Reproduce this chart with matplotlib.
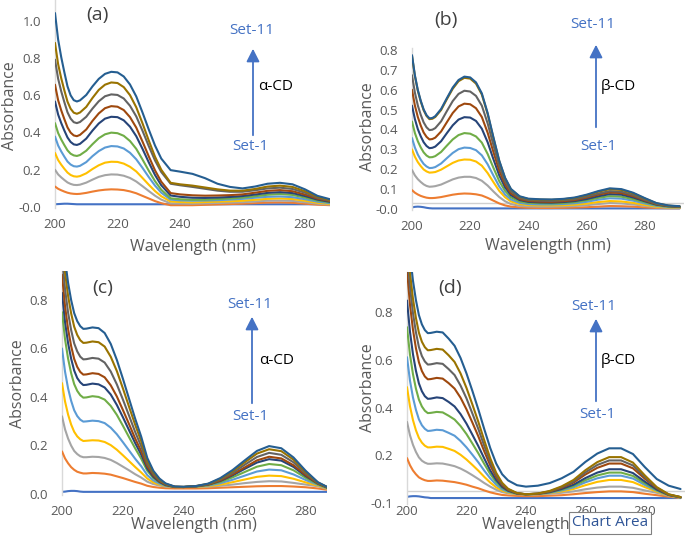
import matplotlib
matplotlib.use("Agg")
import matplotlib.pyplot as plt
from matplotlib.patches import FancyArrowPatch

plt.rcParams['font.family'] = ['Open Sans', 'DejaVu Sans']

W, H = 685, 542

# wavelength grid (nm)
wl = [200, 201, 202, 203, 204, 205, 206, 207, 208, 210, 212, 214, 216, 218, 220, 222, 224, 226, 228, 230,
      232, 234, 237, 240, 244, 248, 252, 256, 260, 264, 268, 272, 276, 280, 284, 288, 292]

set_names = ['Set-1', 'Set-2', 'Set-3', 'Set-4', 'Set-5', 'Set-6', 'Set-7', 'Set-8', 'Set-9', 'Set-10', 'Set-11']
set_colors = ['#4472C4', '#ED7D31', '#A5A5A5', '#FFC000', '#5B9BD5', '#70AD47',
              '#264478', '#9E480E', '#636363', '#997300', '#255E91']

# (a) alpha-CD
abs_a = [
    [0.015, 0.016, 0.017, 0.018, 0.018, 0.017, 0.016, 0.015, 0.015, 0.015, 0.015, 0.015, 0.015, 0.015, 0.015, 0.015, 0.015, 0.015, 0.015, 0.015, 0.015, 0.015, 0.015, 0.015, 0.015, 0.015, 0.015, 0.015, 0.015, 0.015, 0.015, 0.015, 0.015, 0.015, 0.015, 0.015, 0.015],
    [0.11, 0.098, 0.09, 0.083, 0.077, 0.073, 0.071, 0.07, 0.071, 0.076, 0.083, 0.089, 0.093, 0.095, 0.094, 0.091, 0.084, 0.074, 0.06, 0.046, 0.032, 0.021, 0.01, 0.01, 0.01, 0.012, 0.014, 0.016, 0.018, 0.021, 0.024, 0.025, 0.023, 0.018, 0.013, 0.01, 0.01],
    [0.20, 0.175, 0.159, 0.145, 0.132, 0.124, 0.119, 0.118, 0.12, 0.131, 0.147, 0.162, 0.171, 0.175, 0.174, 0.168, 0.156, 0.137, 0.112, 0.086, 0.061, 0.04, 0.02, 0.019, 0.018, 0.02, 0.022, 0.024, 0.026, 0.03, 0.034, 0.035, 0.033, 0.026, 0.018, 0.013, 0.012],
    [0.29, 0.252, 0.227, 0.205, 0.185, 0.172, 0.165, 0.163, 0.166, 0.181, 0.204, 0.224, 0.238, 0.243, 0.242, 0.233, 0.216, 0.191, 0.156, 0.12, 0.086, 0.058, 0.03, 0.027, 0.025, 0.027, 0.029, 0.031, 0.034, 0.039, 0.044, 0.046, 0.043, 0.034, 0.023, 0.017, 0.015],
    [0.378, 0.33, 0.298, 0.27, 0.244, 0.228, 0.219, 0.217, 0.221, 0.241, 0.273, 0.30, 0.319, 0.327, 0.325, 0.314, 0.291, 0.256, 0.21, 0.161, 0.115, 0.077, 0.04, 0.036, 0.034, 0.035, 0.037, 0.04, 0.044, 0.05, 0.055, 0.057, 0.053, 0.042, 0.029, 0.021, 0.018],
    [0.45, 0.397, 0.362, 0.332, 0.304, 0.286, 0.277, 0.274, 0.279, 0.302, 0.337, 0.369, 0.39, 0.399, 0.396, 0.382, 0.354, 0.312, 0.255, 0.195, 0.139, 0.093, 0.047, 0.042, 0.039, 0.04, 0.043, 0.046, 0.051, 0.058, 0.066, 0.07, 0.065, 0.051, 0.035, 0.025, 0.021],
    [0.566, 0.496, 0.45, 0.41, 0.373, 0.349, 0.336, 0.333, 0.339, 0.367, 0.41, 0.448, 0.474, 0.484, 0.482, 0.465, 0.431, 0.38, 0.312, 0.24, 0.172, 0.117, 0.062, 0.055, 0.05, 0.049, 0.051, 0.054, 0.059, 0.067, 0.076, 0.08, 0.075, 0.059, 0.04, 0.028, 0.025],
    [0.656, 0.573, 0.518, 0.471, 0.427, 0.399, 0.384, 0.38, 0.387, 0.416, 0.462, 0.502, 0.53, 0.541, 0.538, 0.52, 0.482, 0.426, 0.351, 0.272, 0.197, 0.136, 0.075, 0.068, 0.063, 0.061, 0.062, 0.064, 0.068, 0.077, 0.087, 0.091, 0.085, 0.067, 0.045, 0.032, 0.029],
    [0.79, 0.688, 0.62, 0.562, 0.508, 0.474, 0.455, 0.45, 0.456, 0.484, 0.528, 0.567, 0.594, 0.604, 0.601, 0.582, 0.543, 0.486, 0.409, 0.327, 0.25, 0.188, 0.125, 0.117, 0.108, 0.098, 0.088, 0.082, 0.082, 0.09, 0.10, 0.104, 0.097, 0.077, 0.05, 0.035, 0.031],
    [0.88, 0.766, 0.69, 0.625, 0.565, 0.527, 0.506, 0.50, 0.507, 0.537, 0.585, 0.628, 0.656, 0.668, 0.665, 0.643, 0.60, 0.535, 0.449, 0.357, 0.27, 0.20, 0.13, 0.122, 0.115, 0.105, 0.095, 0.088, 0.088, 0.097, 0.11, 0.115, 0.108, 0.085, 0.055, 0.038, 0.034],
    [1.04, 0.898, 0.803, 0.722, 0.647, 0.599, 0.573, 0.566, 0.572, 0.601, 0.647, 0.687, 0.714, 0.725, 0.722, 0.70, 0.657, 0.593, 0.507, 0.416, 0.33, 0.26, 0.198, 0.19, 0.178, 0.155, 0.125, 0.108, 0.10, 0.11, 0.125, 0.13, 0.122, 0.095, 0.06, 0.042, 0.038],
]

# (b) beta-CD
abs_b = [
    [0.008, 0.011, 0.012, 0.011, 0.009, 0.006, 0.004, 0.003, 0.003, 0.003, 0.003, 0.003, 0.003, 0.003, 0.003, 0.003, 0.003, 0.003, 0.003, 0.003, 0.003, 0.003, 0.003, 0.003, 0.003, 0.003, 0.003, 0.003, 0.003, 0.003, 0.003, 0.003, 0.003, 0.003, 0.003, 0.003, 0.003],
    [0.095, 0.082, 0.073, 0.066, 0.061, 0.057, 0.055, 0.055, 0.056, 0.06, 0.066, 0.072, 0.076, 0.078, 0.077, 0.074, 0.068, 0.056, 0.042, 0.028, 0.018, 0.012, 0.008, 0.006, 0.005, 0.005, 0.006, 0.007, 0.009, 0.012, 0.015, 0.014, 0.012, 0.008, 0.005, 0.004, 0.004],
    [0.196, 0.169, 0.15, 0.136, 0.124, 0.116, 0.112, 0.113, 0.115, 0.123, 0.136, 0.149, 0.158, 0.162, 0.162, 0.156, 0.142, 0.118, 0.088, 0.06, 0.039, 0.025, 0.016, 0.013, 0.012, 0.012, 0.013, 0.015, 0.019, 0.025, 0.03, 0.028, 0.023, 0.016, 0.009, 0.006, 0.005],
    [0.30, 0.263, 0.236, 0.216, 0.199, 0.189, 0.183, 0.184, 0.186, 0.198, 0.215, 0.232, 0.244, 0.249, 0.248, 0.239, 0.218, 0.181, 0.135, 0.091, 0.059, 0.038, 0.025, 0.02, 0.018, 0.018, 0.019, 0.022, 0.027, 0.035, 0.04, 0.038, 0.031, 0.021, 0.012, 0.008, 0.006],
    [0.357, 0.309, 0.274, 0.248, 0.227, 0.214, 0.206, 0.207, 0.211, 0.229, 0.256, 0.282, 0.301, 0.309, 0.307, 0.296, 0.27, 0.225, 0.168, 0.113, 0.073, 0.048, 0.031, 0.025, 0.023, 0.023, 0.025, 0.029, 0.036, 0.047, 0.054, 0.052, 0.042, 0.028, 0.016, 0.01, 0.008],
    [0.44, 0.382, 0.341, 0.31, 0.285, 0.269, 0.26, 0.261, 0.266, 0.287, 0.319, 0.35, 0.372, 0.382, 0.379, 0.365, 0.334, 0.277, 0.207, 0.14, 0.091, 0.059, 0.038, 0.031, 0.029, 0.028, 0.03, 0.035, 0.044, 0.056, 0.065, 0.062, 0.05, 0.034, 0.019, 0.012, 0.01],
    [0.52, 0.452, 0.402, 0.366, 0.336, 0.317, 0.306, 0.308, 0.314, 0.341, 0.382, 0.421, 0.45, 0.462, 0.46, 0.443, 0.404, 0.336, 0.25, 0.169, 0.109, 0.07, 0.045, 0.036, 0.033, 0.032, 0.035, 0.04, 0.05, 0.064, 0.075, 0.072, 0.058, 0.039, 0.022, 0.014, 0.011],
    [0.60, 0.52, 0.463, 0.42, 0.385, 0.363, 0.35, 0.352, 0.359, 0.39, 0.437, 0.483, 0.516, 0.53, 0.527, 0.507, 0.463, 0.384, 0.286, 0.193, 0.124, 0.079, 0.05, 0.04, 0.037, 0.036, 0.039, 0.045, 0.057, 0.072, 0.083, 0.08, 0.065, 0.043, 0.024, 0.015, 0.012],
    [0.673, 0.585, 0.521, 0.474, 0.436, 0.411, 0.397, 0.399, 0.407, 0.441, 0.493, 0.543, 0.579, 0.595, 0.591, 0.569, 0.52, 0.431, 0.321, 0.216, 0.139, 0.089, 0.056, 0.045, 0.042, 0.041, 0.044, 0.05, 0.062, 0.078, 0.09, 0.087, 0.071, 0.047, 0.026, 0.016, 0.012],
    [0.77, 0.668, 0.595, 0.541, 0.497, 0.468, 0.452, 0.454, 0.463, 0.498, 0.553, 0.605, 0.643, 0.66, 0.656, 0.631, 0.576, 0.478, 0.356, 0.24, 0.154, 0.099, 0.062, 0.05, 0.047, 0.046, 0.049, 0.056, 0.069, 0.087, 0.10, 0.096, 0.079, 0.053, 0.029, 0.017, 0.013],
    [0.774, 0.672, 0.599, 0.545, 0.501, 0.472, 0.456, 0.458, 0.467, 0.503, 0.558, 0.611, 0.649, 0.666, 0.662, 0.637, 0.582, 0.483, 0.36, 0.243, 0.157, 0.101, 0.064, 0.052, 0.049, 0.048, 0.051, 0.058, 0.072, 0.09, 0.104, 0.10, 0.082, 0.055, 0.03, 0.018, 0.014],
]
base_b = 0.032

# (c) alpha-CD
abs_c = [
    [0.008, 0.009, 0.011, 0.012, 0.012, 0.011, 0.009, 0.008, 0.008, 0.008, 0.008, 0.008, 0.008, 0.008, 0.008, 0.008, 0.008, 0.008, 0.008, 0.008, 0.008, 0.008, 0.008, 0.008, 0.008, 0.008, 0.008, 0.008, 0.008, 0.008, 0.008, 0.008, 0.008, 0.008, 0.008, 0.008, 0.008],
    [0.175, 0.146, 0.126, 0.11, 0.099, 0.091, 0.087, 0.084, 0.084, 0.086, 0.085, 0.083, 0.079, 0.072, 0.065, 0.057, 0.049, 0.042, 0.033, 0.028, 0.025, 0.023, 0.022, 0.022, 0.022, 0.023, 0.025, 0.027, 0.029, 0.031, 0.032, 0.032, 0.03, 0.027, 0.022, 0.015, 0.01],
    [0.32, 0.266, 0.228, 0.199, 0.177, 0.164, 0.155, 0.151, 0.151, 0.153, 0.152, 0.148, 0.14, 0.127, 0.112, 0.097, 0.081, 0.067, 0.05, 0.04, 0.034, 0.03, 0.028, 0.028, 0.028, 0.03, 0.033, 0.038, 0.044, 0.049, 0.052, 0.051, 0.045, 0.038, 0.031, 0.017, 0.012],
    [0.457, 0.381, 0.327, 0.286, 0.256, 0.237, 0.225, 0.218, 0.219, 0.221, 0.22, 0.214, 0.201, 0.182, 0.159, 0.135, 0.111, 0.088, 0.063, 0.047, 0.038, 0.032, 0.028, 0.028, 0.029, 0.032, 0.038, 0.048, 0.059, 0.07, 0.075, 0.073, 0.062, 0.047, 0.034, 0.018, 0.013],
    [0.60, 0.504, 0.435, 0.384, 0.345, 0.321, 0.306, 0.298, 0.299, 0.302, 0.30, 0.292, 0.273, 0.246, 0.213, 0.179, 0.145, 0.114, 0.077, 0.055, 0.042, 0.033, 0.028, 0.028, 0.03, 0.034, 0.044, 0.058, 0.075, 0.092, 0.10, 0.097, 0.08, 0.057, 0.037, 0.019, 0.014],
    [0.75, 0.638, 0.558, 0.498, 0.453, 0.425, 0.407, 0.397, 0.398, 0.403, 0.40, 0.389, 0.363, 0.326, 0.281, 0.234, 0.188, 0.145, 0.095, 0.065, 0.047, 0.035, 0.028, 0.028, 0.03, 0.036, 0.049, 0.068, 0.09, 0.112, 0.123, 0.118, 0.097, 0.066, 0.039, 0.02, 0.015],
    [0.83, 0.709, 0.622, 0.558, 0.509, 0.478, 0.46, 0.449, 0.45, 0.455, 0.452, 0.439, 0.41, 0.367, 0.316, 0.263, 0.21, 0.162, 0.104, 0.07, 0.049, 0.036, 0.028, 0.028, 0.031, 0.038, 0.053, 0.076, 0.103, 0.129, 0.143, 0.137, 0.111, 0.073, 0.042, 0.021, 0.015],
    [0.905, 0.774, 0.68, 0.61, 0.557, 0.524, 0.503, 0.492, 0.493, 0.498, 0.495, 0.481, 0.448, 0.402, 0.346, 0.288, 0.229, 0.176, 0.113, 0.076, 0.052, 0.038, 0.029, 0.028, 0.031, 0.038, 0.055, 0.08, 0.109, 0.138, 0.153, 0.146, 0.118, 0.077, 0.043, 0.021, 0.015],
    [0.98, 0.845, 0.748, 0.676, 0.621, 0.588, 0.566, 0.555, 0.556, 0.561, 0.558, 0.542, 0.505, 0.452, 0.389, 0.323, 0.256, 0.196, 0.124, 0.082, 0.055, 0.04, 0.029, 0.028, 0.031, 0.04, 0.059, 0.086, 0.12, 0.152, 0.169, 0.161, 0.13, 0.084, 0.045, 0.022, 0.016],
    [1.05, 0.914, 0.817, 0.745, 0.69, 0.656, 0.634, 0.623, 0.624, 0.629, 0.626, 0.608, 0.566, 0.507, 0.435, 0.36, 0.286, 0.217, 0.136, 0.089, 0.059, 0.041, 0.029, 0.028, 0.032, 0.041, 0.062, 0.093, 0.13, 0.166, 0.184, 0.176, 0.141, 0.09, 0.046, 0.022, 0.016],
    [1.10, 0.967, 0.871, 0.80, 0.746, 0.713, 0.692, 0.681, 0.682, 0.687, 0.684, 0.664, 0.619, 0.553, 0.475, 0.393, 0.311, 0.236, 0.148, 0.095, 0.063, 0.043, 0.03, 0.029, 0.032, 0.042, 0.065, 0.098, 0.138, 0.177, 0.197, 0.188, 0.15, 0.095, 0.048, 0.022, 0.016],
]

# (d) beta-CD
abs_d = [
    [0.025, 0.027, 0.028, 0.028, 0.027, 0.025, 0.023, 0.022, 0.02, 0.02, 0.02, 0.02, 0.02, 0.02, 0.02, 0.02, 0.02, 0.02, 0.02, 0.02, 0.02, 0.02, 0.02, 0.02, 0.02, 0.02, 0.02, 0.02, 0.02, 0.02, 0.02, 0.02, 0.02, 0.02, 0.02, 0.02, 0.02],
    [0.188, 0.158, 0.136, 0.12, 0.107, 0.10, 0.095, 0.092, 0.092, 0.094, 0.093, 0.09, 0.087, 0.082, 0.076, 0.068, 0.061, 0.052, 0.044, 0.038, 0.033, 0.031, 0.029, 0.028, 0.028, 0.03, 0.032, 0.036, 0.041, 0.045, 0.048, 0.048, 0.045, 0.038, 0.032, 0.026, 0.02],
    [0.34, 0.284, 0.244, 0.214, 0.191, 0.177, 0.169, 0.164, 0.164, 0.166, 0.165, 0.16, 0.154, 0.144, 0.131, 0.116, 0.10, 0.083, 0.068, 0.055, 0.045, 0.04, 0.036, 0.035, 0.036, 0.038, 0.042, 0.048, 0.057, 0.064, 0.068, 0.068, 0.063, 0.052, 0.042, 0.03, 0.021],
    [0.486, 0.406, 0.348, 0.305, 0.273, 0.253, 0.24, 0.233, 0.233, 0.236, 0.235, 0.227, 0.218, 0.202, 0.182, 0.159, 0.135, 0.109, 0.085, 0.065, 0.051, 0.043, 0.037, 0.036, 0.037, 0.041, 0.048, 0.058, 0.074, 0.088, 0.096, 0.096, 0.087, 0.066, 0.047, 0.031, 0.022],
    [0.612, 0.514, 0.443, 0.391, 0.351, 0.326, 0.311, 0.302, 0.303, 0.307, 0.305, 0.294, 0.282, 0.26, 0.233, 0.202, 0.17, 0.135, 0.103, 0.076, 0.057, 0.046, 0.038, 0.036, 0.037, 0.042, 0.052, 0.065, 0.086, 0.103, 0.114, 0.114, 0.102, 0.075, 0.051, 0.032, 0.022],
    [0.738, 0.623, 0.541, 0.48, 0.434, 0.405, 0.387, 0.377, 0.378, 0.382, 0.38, 0.366, 0.35, 0.323, 0.289, 0.249, 0.208, 0.163, 0.121, 0.087, 0.063, 0.049, 0.038, 0.036, 0.037, 0.044, 0.055, 0.071, 0.095, 0.115, 0.127, 0.127, 0.113, 0.082, 0.053, 0.033, 0.023],
    [0.85, 0.719, 0.625, 0.555, 0.502, 0.469, 0.448, 0.437, 0.438, 0.443, 0.44, 0.424, 0.405, 0.373, 0.333, 0.286, 0.238, 0.186, 0.136, 0.096, 0.067, 0.051, 0.039, 0.036, 0.038, 0.045, 0.058, 0.076, 0.104, 0.127, 0.141, 0.141, 0.125, 0.089, 0.056, 0.033, 0.023],
    [0.98, 0.833, 0.728, 0.65, 0.591, 0.554, 0.531, 0.519, 0.52, 0.525, 0.522, 0.503, 0.48, 0.442, 0.393, 0.337, 0.279, 0.216, 0.157, 0.108, 0.074, 0.054, 0.04, 0.036, 0.038, 0.047, 0.063, 0.085, 0.119, 0.147, 0.165, 0.165, 0.145, 0.101, 0.061, 0.034, 0.024],
    [1.06, 0.908, 0.798, 0.717, 0.655, 0.617, 0.594, 0.581, 0.582, 0.587, 0.584, 0.562, 0.537, 0.493, 0.439, 0.375, 0.31, 0.239, 0.172, 0.117, 0.079, 0.057, 0.04, 0.036, 0.039, 0.048, 0.066, 0.09, 0.128, 0.159, 0.178, 0.178, 0.157, 0.108, 0.063, 0.035, 0.024],
    [1.12, 0.968, 0.858, 0.777, 0.715, 0.677, 0.654, 0.641, 0.642, 0.647, 0.644, 0.62, 0.592, 0.544, 0.483, 0.413, 0.34, 0.262, 0.187, 0.126, 0.084, 0.059, 0.041, 0.036, 0.039, 0.05, 0.069, 0.096, 0.137, 0.171, 0.192, 0.192, 0.169, 0.115, 0.066, 0.036, 0.024],
    [1.20, 1.045, 0.934, 0.852, 0.789, 0.75, 0.726, 0.713, 0.714, 0.719, 0.716, 0.69, 0.66, 0.609, 0.544, 0.47, 0.392, 0.309, 0.23, 0.165, 0.12, 0.094, 0.074, 0.068, 0.072, 0.083, 0.103, 0.13, 0.172, 0.207, 0.229, 0.229, 0.205, 0.15, 0.10, 0.072, 0.058],
]
base_d = 0.048

yticks_a = [0, 0.2, 0.4, 0.6, 0.8, 1.0]
ylabels_a = ['-0.0', '0.2', '0.4', '0.6', '0.8', '1.0']
yticks_b = [0, 0.1, 0.2, 0.3, 0.4, 0.5, 0.6, 0.7, 0.8]
ylabels_b = ['-0.0', '0.1', '0.2', '0.3', '0.4', '0.5', '0.6', '0.7', '0.8']
yticks_c = [0, 0.2, 0.4, 0.6, 0.8]
ylabels_c = ['0.0', '0.2', '0.4', '0.6', '0.8']
yticks_d = [0, 0.2, 0.4, 0.6, 0.8]
ylabels_d = ['-0.1', '0.2', '0.4', '0.6', '0.8']
xticks = [200, 220, 240, 260, 280]

TXT = '#595959'
BLUE = '#4472C4'


def fx(px):
    return px / W


def fy(py):
    return 1 - py / H


fig = plt.figure(figsize=(W / 100, H / 100), dpi=100)


def panel(rect, data, xlim, ylim, yt, ylab, xpad, tag, cd, pos, base=None):
    # rect in pixels: left, top, right, bottom
    l, t, r, b = rect
    ax = fig.add_axes([fx(l), fy(b), (r - l) / W, (b - t) / H])
    if base is not None:
        ax.axhline(base, color='#d0d0d0', lw=1.0, zorder=1)
    for i in range(len(data)):
        ax.plot(wl, data[i], color=set_colors[i], lw=1.5, zorder=2 + i,
                solid_joinstyle='round', solid_capstyle='round')
    ax.set_xlim(*xlim)
    ax.set_ylim(*ylim)
    ax.set_xticks(xticks)
    ax.set_yticks(yt)
    ax.set_yticklabels(ylab)
    for s in ['top', 'right', 'bottom']:
        ax.spines[s].set_visible(False)
    ax.spines['left'].set_color('#d9d9d9')
    ax.spines['left'].set_linewidth(1.0)
    ax.tick_params(axis='both', length=0, labelsize=9.5, labelcolor=TXT)
    ax.tick_params(axis='y', pad=10)
    ax.tick_params(axis='x', pad=xpad)
    ax.patch.set_alpha(0)
    # annotations
    tx, ty, s11x, s11y, arx, a0, a1, cdx, cdy, s1x, s1y = pos
    fig.text(fx(tx), fy(ty), tag, fontsize=14, color='#404040', ha='center', va='center')
    fig.text(fx(s11x), fy(s11y), 'Set-11', fontsize=11, color=BLUE, ha='center', va='center')
    fig.text(fx(s1x), fy(s1y), 'Set-1', fontsize=11, color=BLUE, ha='center', va='center')
    fig.text(fx(cdx), fy(cdy), cd, fontsize=11, color='black', ha='center', va='center')
    fig.add_artist(FancyArrowPatch(
        (fx(arx), fy(a0)), (fx(arx), fy(a1)), transform=fig.transFigure,
        arrowstyle='-|>,head_length=0.55,head_width=0.28', mutation_scale=14,
        color=BLUE, lw=1.3))
    return ax


ax_a = panel((55, 0, 330, 208), abs_a, (200, 288), (-0.005, 1.11), yticks_a, ylabels_a, 7,
             '(a)', 'α-CD', (97, 15, 252, 31, 253, 138, 46, 276, 87, 250, 146))
ax_b = panel((412, 48, 684, 210), abs_b, (200, 293.5), (-0.005, 0.81), yticks_b, ylabels_b, 7,
             '(b)', 'β-CD', (446, 20, 593, 25, 596, 130, 42, 618, 87, 598, 147), base=base_b)
ax_c = panel((62, 271, 327, 495), abs_c, (200, 287), (-0.005, 0.92), yticks_c, ylabels_c, 7,
             '(c)', 'α-CD', (103, 288, 250, 304, 252, 406, 314, 277, 360, 250, 416))
ax_d = panel((407, 272, 685, 504), abs_d, (200, 293.5), (-0.005, 0.97), yticks_d, ylabels_d, 1,
             '(d)', 'β-CD', (450, 288, 594, 306, 596, 404, 316, 618, 360, 597, 414), base=base_d)

lab = dict(fontsize=11.5, color=TXT, ha='center', va='center')
fig.text(fx(193), fy(247), 'Wavelength (nm)', **lab)
fig.text(fx(548), fy(246), 'Wavelength (nm)', **lab)
fig.text(fx(194), fy(525), 'Wavelength (nm)', **lab)
fig.text(fx(545), fy(525), 'Wavelength (nm)', **lab)
fig.text(fx(10), fy(106), 'Absorbance', rotation=90, **lab)
fig.text(fx(368), fy(127), 'Absorbance', rotation=90, **lab)
fig.text(fx(18), fy(384), 'Absorbance', rotation=90, **lab)
fig.text(fx(368), fy(388), 'Absorbance', rotation=90, **lab)

# hover tooltip captured in the screenshot
fig.text(fx(610), fy(523), 'Chart Area', fontsize=11, color='#2F5597', ha='center', va='center',
         zorder=10, bbox=dict(boxstyle='square,pad=0.22', fc='white', ec='#808080', lw=0.8))

fig.savefig('out.png', dpi=100)
